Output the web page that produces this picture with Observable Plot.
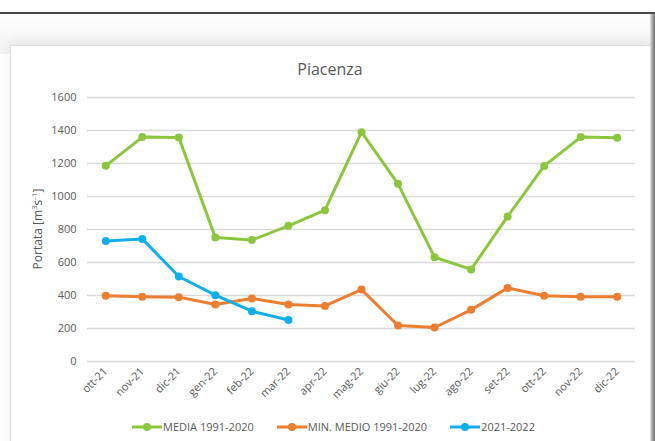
<!DOCTYPE html>
<html>
<head>
<meta charset="utf-8">
<script src="https://cdn.jsdelivr.net/npm/d3@7"></script>
<script src="https://cdn.jsdelivr.net/npm/@observablehq/plot@0.6"></script>
<style>
  html, body { margin: 0; padding: 0; background: #fff; width: 655px; height: 441px; overflow: hidden; position: relative; font-family: "Open Sans", sans-serif; }
  #topline { position: absolute; left: 0; top: 12px; width: 655px; height: 2px; background: #4a4a4a; z-index: 5; }
  #shade { position: absolute; left: 0; top: 14px; width: 655px; height: 40px; background: linear-gradient(#ffffff, #f1f1f1); }
  #rightbar { position: absolute; left: 650px; top: 14px; width: 5px; height: 427px; background: linear-gradient(to right, #e6e6e6, #9a9a9a 60%, #6a6a6a); }
  #card { position: absolute; left: 10px; top: 45px; width: 639px; height: 420px; background: #fff; border: 1px solid #dcdcdc; box-shadow: 0 -4px 10px rgba(0,0,0,0.06); }
  #title { position: absolute; left: 10px; width: 640px; top: 58px; text-align: center; font-size: 16px; color: #595959; }
  #ylabel { position: absolute; left: 37px; top: 229px; transform: translate(-50%, -50%) rotate(-90deg); white-space: nowrap; font-size: 12px; color: #595959; }
  #ylabel sup { font-size: 8px; vertical-align: 5px; line-height: 0; }
  #chart { position: absolute; left: 0; top: 85px; }
  #legend { position: absolute; left: 0; width: 655px; top: 419px; display: flex; justify-content: center; gap: 23px; font-size: 11px; color: #595959; padding-left: 12px; box-sizing: border-box; }
  .item { display: flex; align-items: center; }
  .item svg { margin-right: 1px; }
</style>
</head>
<body>
<div id="topline"></div>
<div id="shade"></div>
<div id="rightbar"></div>
<div id="card"></div>
<div id="title">Piacenza</div>
<div id="ylabel">Portata [m<sup>3</sup>s<sup>-1</sup>]</div>
<div id="chart"></div>
<div id="legend"></div>
<script>
const months = ["ott-21","nov-21","dic-21","gen-22","feb-22","mar-22","apr-22","mag-22","giu-22","lug-22","ago-22","set-22","ott-22","nov-22","dic-22"];
const media = [1186,1360,1357,752,736,822,917,1390,1077,632,558,879,1185,1360,1356];
const minMedio = [398,392,390,345,382,345,337,436,218,206,313,446,398,392,392];
const current = [731,743,515,402,305,252];
const seriesNames = ["MEDIA 1991-2020","MIN. MEDIO 1991-2020","2021-2022"];
const colors = ["#8CC63F","#ED7D31","#12AEEA"];
const yTicks = [0,200,400,600,800,1000,1200,1400,1600];

const rows = [];
[media, minMedio, current].forEach((vals, i) => {
  vals.forEach((v, j) => rows.push({series: seriesNames[i], month: months[j], value: v}));
});

const chart = Plot.plot({
  width: 655,
  height: 320,
  marginLeft: 87,
  marginRight: 20,
  marginTop: 12,
  marginBottom: 44,
  style: { fontFamily: "Open Sans, sans-serif", fontSize: "11px", color: "#595959", background: "transparent", overflow: "visible" },
  x: { type: "point", domain: months, padding: 0.5, round: false },
  y: { domain: [0, 1600] },
  color: { domain: seriesNames, range: colors },
  marks: [
    Plot.ruleY(yTicks, { stroke: "#d9d9d9", strokeWidth: 1.3 }),
    Plot.axisY({ ticks: yTicks, tickSize: 0, tickPadding: 11, label: null, tickFormat: d => String(d) }),
    Plot.axisX({ tickRotate: -45, tickSize: 0, tickPadding: 8, label: null }),
    Plot.line(rows, { x: "month", y: "value", z: "series", stroke: "series", strokeWidth: 3, curve: "linear" }),
    Plot.dot(rows, { x: "month", y: "value", fill: "series", r: 4 })
  ]
});
document.getElementById("chart").appendChild(chart);

const legend = document.getElementById("legend");
seriesNames.forEach((name, i) => {
  const item = document.createElement("div");
  item.className = "item";
  item.innerHTML = `<svg width="30" height="10"><line x1="0" y1="5" x2="30" y2="5" stroke="${colors[i]}" stroke-width="3"/><circle cx="15" cy="5" r="4" fill="${colors[i]}"/></svg><span>${name}</span>`;
  legend.appendChild(item);
});
</script>
</body>
</html>
